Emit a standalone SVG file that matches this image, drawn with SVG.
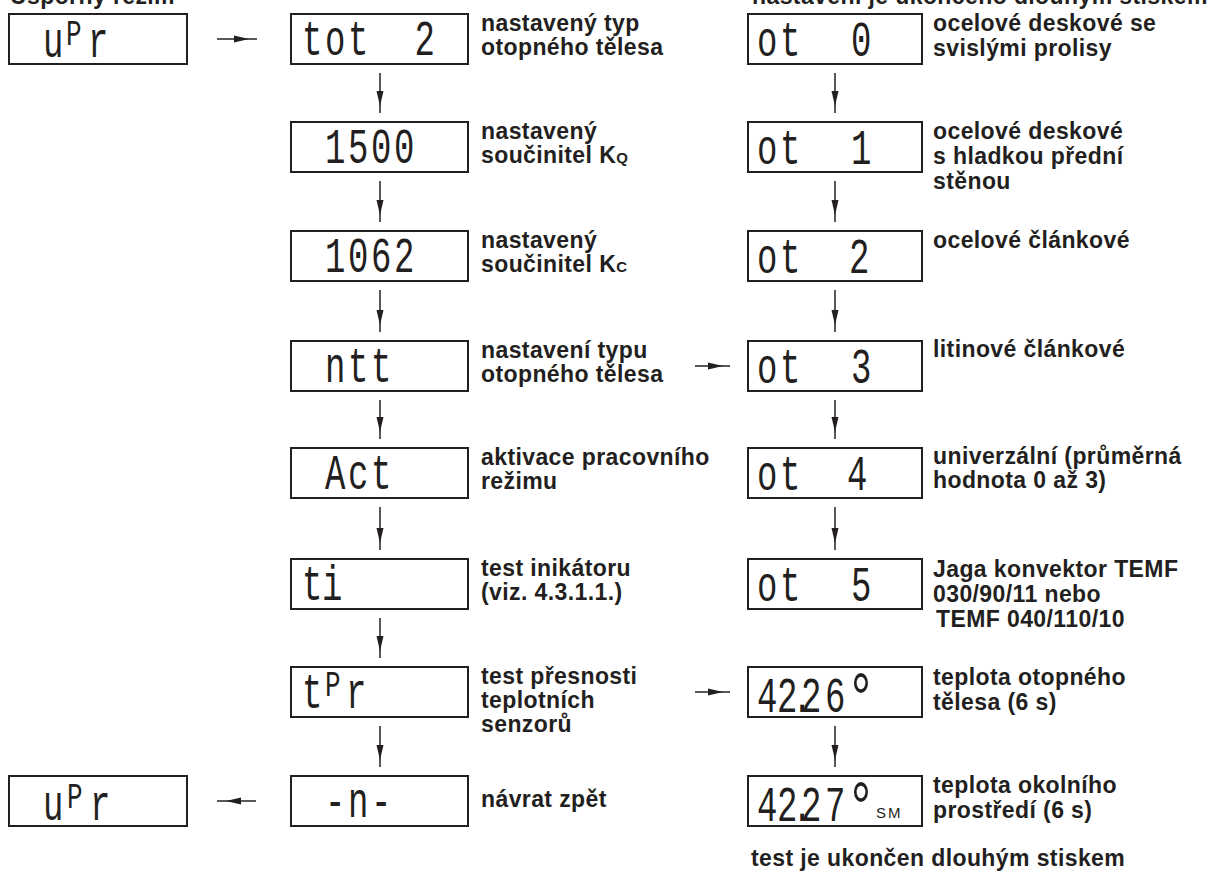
<svg xmlns="http://www.w3.org/2000/svg" width="1225" height="871" viewBox="0 0 1225 871">
  <defs>
    <!-- slender dart head, tip at the marker origin -->
    <marker id="head" markerUnits="userSpaceOnUse" markerWidth="18" markerHeight="10" viewBox="-16 -5 17 10" refX="0" refY="0" orient="auto">
      <path d="M0 0 L-15 -3.5 L-15 3.5 Z" fill="#231f20"/>
    </marker>
  </defs>
  <style>
    .box { fill: #fff; stroke: #231f20; stroke-width: 2; }
    .lbl { font-family: "Liberation Sans", Arial, sans-serif; font-weight: bold; font-size: 23px; letter-spacing: 0.4px; fill: #231f20; }
    .sub { font-size: 15px; }
    .lcd { font-family: "Liberation Mono", "DejaVu Sans Mono", monospace; font-size: 34px; fill: #231f20; }
    .deg { font-size: 50px; }
    .sm { font-family: "Liberation Sans", Arial, sans-serif; font-size: 15px; letter-spacing: 2px; fill: #231f20; }
    .conn { fill: none; stroke: #231f20; stroke-width: 1.5; marker-mid: url(#head); }
  </style>
  <rect width="1225" height="871" fill="#fff"/>

  <!-- headings, clipped by the top edge -->
  <text class="lbl" x="10" y="4">Úsporný režim</text>
  <text class="lbl" x="752" y="4">nastavení je ukončeno dlouhým stiskem</text>

  <!-- left column -->
  <g id="upr-start">
    <rect class="box" x="9" y="14" width="178" height="50"/>
    <text class="lcd" transform="translate(0 57) scale(1 1.45)"><tspan x="43" y="0">u</tspan><tspan x="66" y="-8" font-size="26">P</tspan><tspan x="88" y="0">r</tspan></text>
  </g>
  <g id="upr-end">
    <rect class="box" x="9" y="776" width="178" height="50"/>
    <text class="lcd" transform="translate(0 820) scale(1 1.45)"><tspan x="43" y="0">u</tspan><tspan x="67" y="-8" font-size="26">P</tspan><tspan x="90" y="0">r</tspan></text>
  </g>

  <!-- middle column: service menu -->
  <g id="tot2">
    <rect class="box" x="291" y="14" width="177" height="50"/>
    <text class="lcd" transform="translate(0 55) scale(1 1.45)" x="302 325 348 394" y="0">tot 2</text>
    <text class="lbl" x="481" y="31">nastavený typ</text>
    <text class="lbl" x="481" y="55">otopného tělesa</text>
  </g>
  <g id="kq">
    <rect class="box" x="291" y="122" width="177" height="50"/>
    <text class="lcd" transform="translate(0 163) scale(1 1.45)" x="325 348 371 394" y="0">1500</text>
    <text class="lbl" x="481" y="139">nastavený</text>
    <text class="lbl" x="481" y="163">součinitel K<tspan class="sub">Q</tspan></text>
  </g>
  <g id="kc">
    <rect class="box" x="291" y="231" width="177" height="50"/>
    <text class="lcd" transform="translate(0 272) scale(1 1.45)" x="325 348 371 394" y="0">1062</text>
    <text class="lbl" x="481" y="248">nastavený</text>
    <text class="lbl" x="481" y="272">součinitel K<tspan class="sub">C</tspan></text>
  </g>
  <g id="ntt">
    <rect class="box" x="291" y="341" width="177" height="50"/>
    <text class="lcd" transform="translate(0 382) scale(1 1.45)" x="325 348 371" y="0">ntt</text>
    <text class="lbl" x="481" y="358">nastavení typu</text>
    <text class="lbl" x="481" y="382">otopného tělesa</text>
  </g>
  <g id="act">
    <rect class="box" x="291" y="448" width="177" height="50"/>
    <text class="lcd" transform="translate(0 489) scale(1 1.45)" x="325 348 371" y="0">Act</text>
    <text class="lbl" x="481" y="465">aktivace pracovního</text>
    <text class="lbl" x="481" y="489">režimu</text>
  </g>
  <g id="ti">
    <rect class="box" x="291" y="559" width="177" height="50"/>
    <text class="lcd" transform="translate(0 600) scale(1 1.45)" x="302 322" y="0">ti</text>
    <text class="lbl" x="481" y="576">test inikátoru</text>
    <text class="lbl" x="481" y="600">(viz. 4.3.1.1.)</text>
  </g>
  <g id="tpr">
    <rect class="box" x="291" y="667" width="177" height="50"/>
    <text class="lcd" transform="translate(0 708) scale(1 1.45)"><tspan x="302" y="0">t</tspan><tspan x="325" y="-8" font-size="26">P</tspan><tspan x="346" y="0">r</tspan></text>
    <text class="lbl" x="481" y="684">test přesnosti</text>
    <text class="lbl" x="481" y="708">teplotních</text>
    <text class="lbl" x="481" y="732">senzorů</text>
  </g>
  <g id="back">
    <rect class="box" x="291" y="776" width="177" height="50"/>
    <text class="lcd" transform="translate(0 817) scale(1 1.45)" x="325 348 371" y="0">-n-</text>
    <text class="lbl" x="481" y="807">návrat zpět</text>
  </g>

  <!-- right column: radiator types and sensor readings -->
  <g id="ot0">
    <rect class="box" x="748" y="14" width="174" height="50"/>
    <text class="lcd" transform="translate(0 56) scale(1 1.45)" x="757 780 803 851" y="0">ot 0</text>
    <text class="lbl" x="933" y="31">ocelové deskové se</text>
    <text class="lbl" x="933" y="56">svislými prolisy</text>
  </g>
  <g id="ot1">
    <rect class="box" x="748" y="122" width="174" height="50"/>
    <text class="lcd" transform="translate(0 164) scale(1 1.45)" x="757 780 803 851" y="0">ot 1</text>
    <text class="lbl" x="933" y="139">ocelové deskové</text>
    <text class="lbl" x="933" y="164">s hladkou přední</text>
    <text class="lbl" x="933" y="189">stěnou</text>
  </g>
  <g id="ot2">
    <rect class="box" x="748" y="231" width="174" height="50"/>
    <text class="lcd" transform="translate(0 273) scale(1 1.45)" x="757 780 803 849" y="0">ot 2</text>
    <text class="lbl" x="933" y="248">ocelové článkové</text>
  </g>
  <g id="ot3">
    <rect class="box" x="748" y="341" width="174" height="50"/>
    <text class="lcd" transform="translate(0 383) scale(1 1.45)" x="757 780 803 851" y="0">ot 3</text>
    <text class="lbl" x="933" y="357">litinové článkové</text>
  </g>
  <g id="ot4">
    <rect class="box" x="748" y="448" width="174" height="50"/>
    <text class="lcd" transform="translate(0 490) scale(1 1.45)" x="757 780 803 847" y="0">ot 4</text>
    <text class="lbl" x="933" y="464">univerzální (průměrná</text>
    <text class="lbl" x="933" y="488">hodnota 0 až 3)</text>
  </g>
  <g id="ot5">
    <rect class="box" x="748" y="559" width="174" height="50"/>
    <text class="lcd" transform="translate(0 601) scale(1 1.45)" x="757 780 803 851" y="0">ot 5</text>
    <text class="lbl" x="933" y="577">Jaga konvektor TEMF</text>
    <text class="lbl" x="933" y="602">030/90/11 nebo</text>
    <text class="lbl" x="936" y="627">TEMF 040/110/10</text>
  </g>
  <g id="t-radiator">
    <rect class="box" x="748" y="667" width="174" height="50"/>
    <text class="lcd" transform="translate(0 712) scale(1 1.45)" x="757 777 792 801 825" y="0">42.26<tspan class="deg" x="846" y="6">°</tspan></text>
    <text class="lbl" x="933" y="685">teplota otopného</text>
    <text class="lbl" x="933" y="710">tělesa (6 s)</text>
  </g>
  <g id="t-ambient">
    <rect class="box" x="748" y="776" width="174" height="50"/>
    <text class="lcd" transform="translate(0 821) scale(1 1.45)" x="757 777 792 801 825" y="0">42.27<tspan class="deg" x="846" y="6">°</tspan></text>
    <text class="sm" x="876" y="818">SM</text>
    <text class="lbl" x="933" y="793">teplota okolního</text>
    <text class="lbl" x="933" y="818">prostředí (6 s)</text>
  </g>

  <text class="lbl" x="751" y="866">test je ukončen dlouhým stiskem</text>

  <!-- connectors: the head sits on the middle vertex, a short tail runs past it -->
  <g id="connectors">
    <path class="conn" d="M217 39 H249 H257"/>
    <path class="conn" d="M256 801 H226 H217"/>
    <path class="conn" d="M380 73 V106 V113"/>
    <path class="conn" d="M380 181 V215 V222"/>
    <path class="conn" d="M380 290 V325 V332"/>
    <path class="conn" d="M380 400 V432 V439"/>
    <path class="conn" d="M380 507 V543 V550"/>
    <path class="conn" d="M380 618 V651 V658"/>
    <path class="conn" d="M380 726 V760 V767"/>
    <path class="conn" d="M835 73 V106 V113"/>
    <path class="conn" d="M835 181 V215 V222"/>
    <path class="conn" d="M835 290 V325 V332"/>
    <path class="conn" d="M835 400 V432 V439"/>
    <path class="conn" d="M835 507 V543 V550"/>
    <path class="conn" d="M835 726 V760 V767"/>
    <path class="conn" d="M695 366 H723 H730"/>
    <path class="conn" d="M695 692 H723 H730"/>
  </g>
</svg>
